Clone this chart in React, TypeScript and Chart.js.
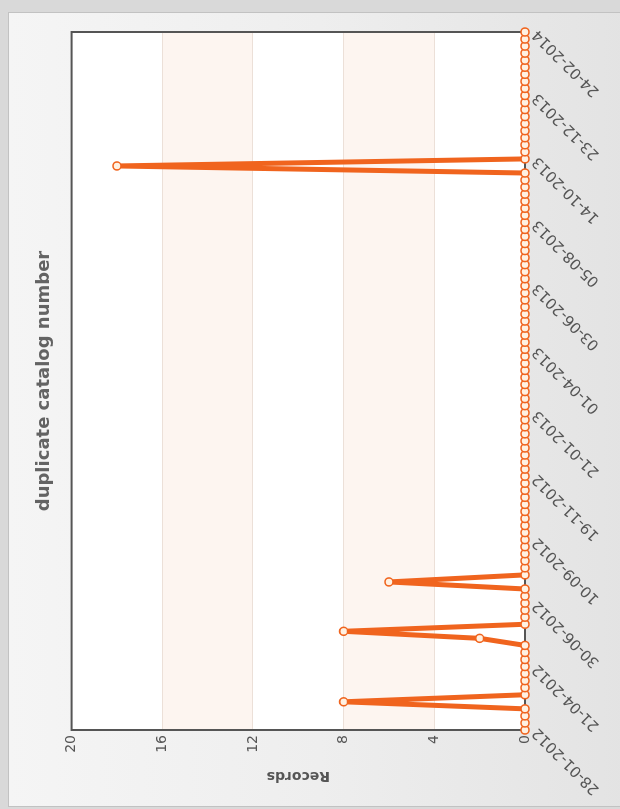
import React, { useEffect, useRef } from "react";
import { Chart, registerables } from "chart.js";

Chart.register(...registerables);

// Category tick labels (every 9th point carries a date label)
const tickDates = [
  "28-01-2012", "21-04-2012", "30-06-2012", "10-09-2012",
  "19-11-2012", "21-01-2013", "01-04-2013", "03-06-2013",
  "05-08-2013", "14-10-2013", "23-12-2013", "24-02-2014",
];
const pointsPerLabel = 9;

// Records per point (oldest first)
const records = [
  0, 0, 0, 0, 8, 0, 0, 0, 0, 0,
  0, 0, 0, 2, 8, 0, 0, 0, 0, 0,
  0, 6, 0, 0, 0, 0, 0, 0, 0, 0,
  0, 0, 0, 0, 0, 0, 0, 0, 0, 0,
  0, 0, 0, 0, 0, 0, 0, 0, 0, 0,
  0, 0, 0, 0, 0, 0, 0, 0, 0, 0,
  0, 0, 0, 0, 0, 0, 0, 0, 0, 0,
  0, 0, 0, 0, 0, 0, 0, 0, 0, 0,
  18, 0, 0, 0, 0, 0, 0, 0, 0, 0,
  0, 0, 0, 0, 0, 0, 0, 0, 0, 0,
];

const yMin = 0;
const yMax = 20;
const yStep = 4;
const bandRanges = [
  [4, 8],
  [12, 16],
];

const categories = records.map((_, i) =>
  i % pointsPerLabel === 0 ? tickDates[i / pointsPerLabel] ?? "" : ""
);

const FONT = "'DejaVu Sans', Verdana, sans-serif";

const plotDecor = {
  id: "plotDecor",
  beforeDraw(chart: any) {
    const { ctx, chartArea: a, scales } = chart;
    const y = scales.y;
    ctx.save();
    ctx.fillStyle = "#ffffff";
    ctx.fillRect(a.left, a.top, a.right - a.left, a.bottom - a.top);
    ctx.fillStyle = "#fdf5f0";
    for (const [lo, hi] of bandRanges) {
      const y1 = y.getPixelForValue(hi);
      const y2 = y.getPixelForValue(lo);
      ctx.fillRect(a.left, y1, a.right - a.left, y2 - y1);
    }
    ctx.restore();
  },
  beforeDatasetsDraw(chart: any) {
    const { ctx, chartArea: a } = chart;
    ctx.save();
    ctx.strokeStyle = "#555555";
    ctx.lineWidth = 2;
    ctx.strokeRect(a.left, a.top, a.right - a.left, a.bottom - a.top);
    ctx.restore();
  },
};

export default function App() {
  const canvasRef = useRef<HTMLCanvasElement | null>(null);

  useEffect(() => {
    const canvas = canvasRef.current;
    if (!canvas) return;
    const chart = new Chart(canvas, {
      type: "line",
      data: {
        labels: categories,
        datasets: [
          {
            data: records,
            borderColor: "#f0641e",
            borderWidth: 5,
            pointRadius: 4,
            pointBackgroundColor: "#fff1e2",
            pointBorderColor: "#f0641e",
            pointBorderWidth: 1.6,
            tension: 0,
            clip: false as any,
          },
        ],
      },
      options: {
        responsive: false,
        animation: false,
        devicePixelRatio: 1,
        layout: { padding: { left: 0, right: 32, top: 0, bottom: 0 } },
        plugins: {
          legend: { display: false },
          tooltip: { enabled: false },
          title: {
            display: true,
            text: "duplicate catalog number",
            fullSize: false,
            color: "#636363",
            font: { family: FONT, size: 18, weight: "bold" },
            padding: { top: 34, bottom: 16 },
          },
        },
        scales: {
          x: {
            type: "category",
            offset: false,
            grid: { display: false, drawTicks: false },
            border: { display: false },
            ticks: {
              autoSkip: false,
              minRotation: 45,
              maxRotation: 45,
              color: "#555555",
              font: { family: FONT, size: 15 },
              padding: 4,
            },
            afterFit(scale: any) {
              scale.height = 95;
            },
          },
          y: {
            min: yMin,
            max: yMax,
            ticks: {
              stepSize: yStep,
              color: "#555555",
              font: { family: FONT, size: 14 },
              padding: 5,
            },
            grid: { color: "#ece0d8", drawTicks: false },
            border: { display: false },
            title: {
              display: true,
              text: "Records",
              color: "#555555",
              font: { family: FONT, size: 14, weight: "bold" },
              padding: { top: 25, bottom: 0 },
            },
            afterFit(scale: any) {
              scale.width = 79;
            },
          },
        },
      },
      plugins: [plotDecor],
    });
    return () => chart.destroy();
  }, []);

  return (
    <div
      style={{
        position: "fixed",
        left: 0,
        top: 0,
        width: 620,
        height: 809,
        overflow: "hidden",
        background: "#d9d9d9",
      }}
    >
      <div
        style={{
          position: "absolute",
          left: 8,
          top: 12,
          width: 620,
          height: 793,
          border: "1px solid #c2c2c2",
          background: "linear-gradient(to right, #f5f5f5 0%, #eeeeee 50%, #e3e3e3 100%)",
        }}
      />
      <div
        style={{
          position: "absolute",
          left: 0,
          top: 0,
          width: 809,
          height: 620,
          transformOrigin: "0 0",
          transform: "translate(0px, 809px) rotate(-90deg)",
        }}
      >
        <canvas
          ref={canvasRef}
          width={809}
          height={620}
          style={{ width: 809, height: 620, display: "block" }}
        />
      </div>
    </div>
  );
}
